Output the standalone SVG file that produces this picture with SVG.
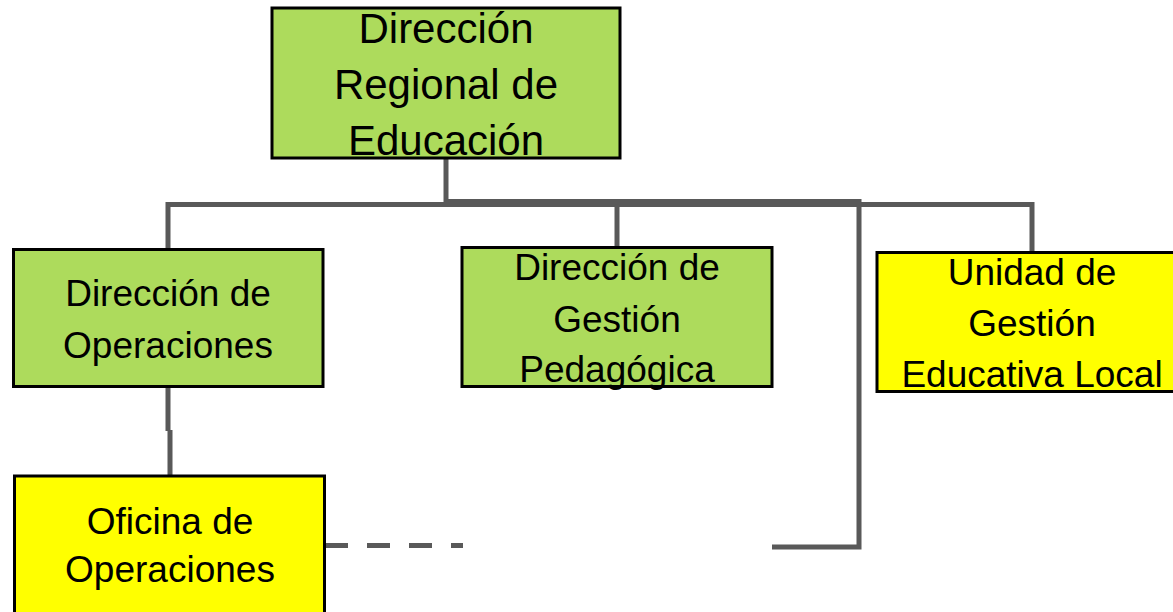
<svg xmlns="http://www.w3.org/2000/svg" width="1173" height="612" viewBox="0 0 1173 612">
<style>
.conn{fill:none;stroke:#595959;stroke-width:5;stroke-linejoin:miter}
.dash{stroke-dasharray:23 19}
.box{stroke:#000;stroke-width:3}
.green{fill:#ADDB5C}
.yellow{fill:#FFFF00}
text{font-family:"Liberation Sans",Arial,sans-serif;fill:#000;text-anchor:middle}
.big{font-size:42px}
.mid{font-size:37px}
</style>
<rect width="1173" height="612" fill="#fff"/>
<g id="connectors">
<path class="conn" d="M446,158 V204.5"/>
<path class="conn" d="M168,250 V204.5 H1032 V252"/>
<path class="conn" d="M617,204.5 V248"/>
<path class="conn" d="M446,201.5 H859 V547 H772"/>
<path class="conn" d="M168,387 V431 M170,430 V476"/>
<path class="conn dash" d="M325,545.5 H463"/>
</g>
<g id="node-direccion-regional">
<rect class="box green" x="272" y="8" width="348" height="150"/>
<text class="big" x="446" y="43">Dirección</text>
<text class="big" x="446" y="99">Regional de</text>
<text class="big" x="446" y="155">Educación</text>
</g>
<g id="node-direccion-operaciones">
<rect class="box green" x="13.5" y="249.5" width="309.5" height="137"/>
<text class="mid" x="168" y="306">Dirección de</text>
<text class="mid" x="168" y="358">Operaciones</text>
</g>
<g id="node-direccion-gestion-pedagogica">
<rect class="box green" x="462" y="247.5" width="310" height="139"/>
<text class="mid" x="617" y="280">Dirección de</text>
<text class="mid" x="617" y="332">Gestión</text>
<text class="mid" x="617" y="382">Pedagógica</text>
</g>
<g id="node-ugel">
<rect class="box yellow" x="877" y="252.5" width="320" height="139"/>
<text class="mid" x="1032" y="285">Unidad de</text>
<text class="mid" x="1032" y="336">Gestión</text>
<text class="mid" x="1032" y="387">Educativa Local</text>
</g>
<g id="node-oficina-operaciones">
<rect class="box yellow" x="14.5" y="476" width="310" height="150"/>
<text class="mid" x="170" y="534">Oficina de</text>
<text class="mid" x="170" y="582">Operaciones</text>
</g>
</svg>
